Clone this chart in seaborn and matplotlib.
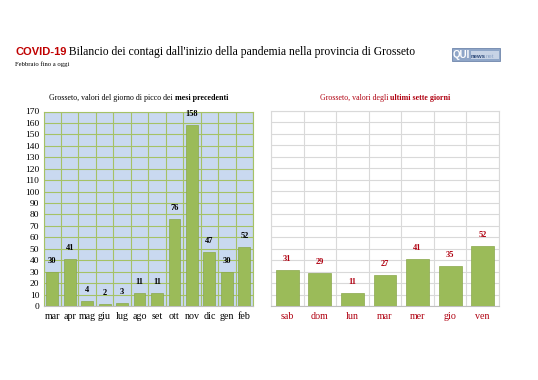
import matplotlib
matplotlib.use("Agg")
import matplotlib.pyplot as plt
import seaborn as sns
import numpy as np
from matplotlib.patches import Rectangle

# dati
mesi = ["mar", "apr", "mag", "giu", "lug", "ago", "set", "ott", "nov", "dic", "gen", "feb"]
picchi_mesi = [30, 41, 4, 2, 3, 11, 11, 76, 158, 47, 30, 52]
giorni = ["sab", "dom", "lun", "mar", "mer", "gio", "ven"]
casi_giorni = [31, 29, 11, 27, 41, 35, 52]
y_ticks = list(range(0, 171, 10))

SERIF = "Liberation Serif"
ROSSO = "#b00010"
VERDE = "#9bbb59"

sns.set_theme(style="white")
plt.rcParams["font.family"] = [SERIF, "DejaVu Serif"]

fig = plt.figure(figsize=(5.38, 3.80), dpi=100)
fig.patch.set_facecolor("white")
renderer = fig.canvas.get_renderer()


def testo_misto(x, y, pezzi, ha="center", **kw):
    # pezzi = [(testo, dict di stile), ...] scritti uno dopo l'altro
    larghezze = []
    for s, st in pezzi:
        t = fig.text(0, 0, s, **st, **kw)
        bb = t.get_window_extent(renderer)
        larghezze.append(bb.width / fig.bbox.width)
        t.remove()
    tot = sum(larghezze)
    x0 = x - tot / 2 if ha == "center" else x
    for (s, st), w in zip(pezzi, larghezze):
        fig.text(x0, y, s, ha="left", **st, **kw)
        x0 += w


# titolo
testo_misto(15 / 538, 1 - 55 / 380, [
    ("COVID-19", dict(family=["Liberation Sans"], weight="bold", color="#c00000", fontsize=8)),
    (" Bilancio dei contagi dall'inizio della pandemia nella provincia di Grosseto",
     dict(color="black", fontsize=8.4)),
], ha="left", va="baseline")
fig.text(15 / 538, 1 - 66 / 380, "Febbraio fino a oggi", fontsize=4.8, color="black", va="baseline")

# logo
fig.patches.append(Rectangle((452 / 538, 1 - 61 / 380), 48 / 538, 13 / 380,
                             transform=fig.transFigure, facecolor="#8fa6c8",
                             edgecolor="#6f86ab", lw=0.6))
fig.patches.append(Rectangle((471 / 538, 1 - 59 / 380), 28 / 538, 8 / 380,
                             transform=fig.transFigure, facecolor="#c7d3e6", lw=0))
testo_misto(453 / 538, 1 - 58.5 / 380, [
    ("QUI", dict(family=["Liberation Sans"], weight="bold", color="white", fontsize=7)),
    ("news", dict(family=["Liberation Sans"], weight="bold", color="#2e4a7a", fontsize=4.3)),
    ("net", dict(family=["Liberation Sans"], color="#8fa6c8", fontsize=4.3)),
], ha="left", va="baseline")

# pannello sinistro
ax1 = fig.add_axes([43.5 / 538, 1 - 306 / 380, 209.5 / 538, 194.5 / 380])
sns.barplot(x=mesi, y=picchi_mesi, color=VERDE, saturation=1, width=0.68,
            edgecolor="#8aa84c", linewidth=0.5, ax=ax1, zorder=3)
ax1.set_facecolor("#c9d9f0")
ax1.set_ylim(0, 170)
ax1.set_xlim(-0.5, len(mesi) - 0.5)
ax1.set_yticks(y_ticks)
ax1.set_xticks(np.arange(-0.5, len(mesi), 1), minor=True)
ax1.grid(True, axis="y", which="major", color="#a5c266", lw=0.8, zorder=0)
ax1.grid(True, axis="x", which="minor", color="#a5c266", lw=0.8, zorder=0)
ax1.set_axisbelow(True)
for s in ax1.spines.values():
    s.set_color("#a5c266")
    s.set_linewidth(0.8)
ax1.spines["bottom"].set_color("#bfbfbf")
ax1.tick_params(axis="both", which="both", length=0, labelsize=6.8, colors="black", pad=3)
ax1.tick_params(axis="x", labelsize=7.2, pad=4)
ax1.bar_label(ax1.containers[0], fontsize=6, weight="bold", color="black", padding=5)
ax1.set_xlabel("")
ax1.set_ylabel("")
testo_misto(139 / 538, 1 - 100 / 380, [
    ("Grosseto, valori del giorno di picco dei ", dict(color="black")),
    ("mesi precedenti", dict(color="black", weight="bold")),
], fontsize=5.7, va="baseline")

# pannello destro
ax2 = fig.add_axes([271 / 538, 1 - 306 / 380, 228 / 538, 195 / 380])
sns.barplot(x=giorni, y=casi_giorni, color=VERDE, saturation=1, width=0.7,
            edgecolor="#8aa84c", linewidth=0.5, ax=ax2, zorder=3)
ax2.set_facecolor("white")
ax2.set_ylim(0, 170)
ax2.set_xlim(-0.5, len(giorni) - 0.5)
ax2.set_yticks(y_ticks)
ax2.set_yticklabels([])
ax2.set_xticks(np.arange(-0.5, len(giorni), 1), minor=True)
ax2.grid(True, axis="y", which="major", color="#d9d9d9", lw=0.8, zorder=0)
ax2.grid(True, axis="x", which="minor", color="#d9d9d9", lw=0.8, zorder=0)
ax2.set_axisbelow(True)
for s in ax2.spines.values():
    s.set_color("#d9d9d9")
    s.set_linewidth(0.8)
ax2.spines["bottom"].set_color("#bfbfbf")
ax2.tick_params(axis="both", which="both", length=0)
ax2.tick_params(axis="x", labelsize=7.2, colors=ROSSO, pad=4)
ax2.bar_label(ax2.containers[0], fontsize=6, weight="bold", color=ROSSO, padding=5)
ax2.set_xlabel("")
ax2.set_ylabel("")
testo_misto(385 / 538, 1 - 100 / 380, [
    ("Grosseto, valori degli ", dict(color=ROSSO)),
    ("ultimi sette giorni", dict(color=ROSSO, weight="bold")),
], fontsize=5.7, va="baseline")

fig.savefig("out.png", dpi=100, facecolor="white")
